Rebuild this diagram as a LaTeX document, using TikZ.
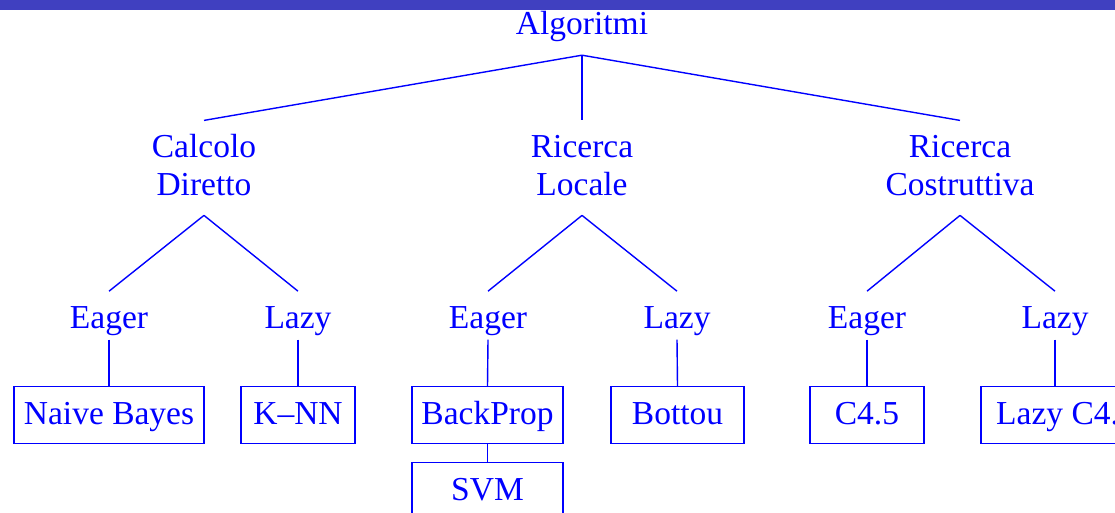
\documentclass[tikz,border=0pt]{standalone}
\usepackage{fontspec}
\setmainfont{Liberation Serif}
\usetikzlibrary{calc}
\definecolor{barblue}{RGB}{64,64,192}
\tikzset{
  lbl/.style={inner sep=0pt, text=blue, font=\fontsize{33.5}{38}\selectfont, align=center},
  leaf/.style={draw=blue, line width=1.3pt, inner sep=0pt, text=blue,
    font=\fontsize{33.5}{38}\selectfont, minimum height=57pt,
    text height=30pt, text depth=11pt},
  edge/.style={draw=blue, line width=1.4pt},
}
\begin{document}
\begin{tikzpicture}[x=1pt, y=-1pt]
  \useasboundingbox (0,0) rectangle (1115,513);
  \clip (0,0) rectangle (1115,513);
  \fill[barblue] (0,0) rectangle (1115,10);

  % root
  \node[lbl, anchor=base] (alg) at (582,35) {\strut Algoritmi};

  % first level
  \node[lbl, anchor=north] (cd) at (204,130.4) {\strut Calcolo\\Diretto\strut};
  \node[lbl, anchor=north] (rl) at (582,130.4) {\strut Ricerca\\Locale\strut};
  \node[lbl, anchor=north] (rc) at (960,130.4) {\strut Ricerca\\Costruttiva\strut};

  % second level
  \node[lbl, anchor=base] (e1) at (109,328) {\strut Eager};
  \node[lbl, anchor=base] (l1) at (298,328) {\strut Lazy};
  \node[lbl, anchor=base] (e2) at (488,328) {\strut Eager};
  \node[lbl, anchor=base] (l2) at (677,328) {\strut Lazy};
  \node[lbl, anchor=base] (e3) at (867,328) {\strut Eager};
  \node[lbl, anchor=base] (l3) at (1055,328) {\strut Lazy};

  % leaves
  \node[leaf, minimum width=190pt, anchor=north] (nb)  at (109,386)   {Naive Bayes};
  \node[leaf, minimum width=114pt, anchor=north] (knn) at (298,386)   {K--NN};
  \node[leaf, minimum width=151pt, anchor=north] (bp)  at (487.5,386) {BackProp};
  \node[leaf, minimum width=151pt, anchor=north] (svm) at (487.5,462) {SVM};
  \node[leaf, minimum width=133pt, anchor=north] (bot) at (677.5,386) {Bottou};
  \node[leaf, minimum width=114pt, anchor=north] (c45) at (867,386)   {C4.5};
  \node[leaf, minimum width=170pt, anchor=north] (lc45) at (1066,386) {Lazy C4.5};

  % edge end points below and above the labels
  \coordinate (algB) at ($(alg.south)+(0,8.6)$);
  \foreach \n in {cd,rl,rc} {
    \coordinate (\n T) at ($(\n.north)+(0,-10)$);
    \coordinate (\n B) at ($(\n.south)+(0,8.6)$);
  }
  \foreach \n in {e1,l1,e2,l2,e3,l3} {
    \coordinate (\n T) at ($(\n.north)+(0,-10)$);
  }

  % tree edges
  \draw[edge] (algB) -- (cdT);
  \draw[edge] (algB) -- (rlT);
  \draw[edge] (algB) -- (rcT);
  \draw[edge] (cdB) -- (e1T);
  \draw[edge] (cdB) -- (l1T);
  \draw[edge] (rlB) -- (e2T);
  \draw[edge] (rlB) -- (l2T);
  \draw[edge] (rcB) -- (e3T);
  \draw[edge] (rcB) -- (l3T);

  % leaf links
  \draw[edge] (e1.south) -- (nb.north);
  \draw[edge] (l1.south) -- (knn.north);
  \draw[edge] (e2.south) -- (bp.north);
  \draw[edge] (bp.south) -- (svm.north);
  \draw[edge] (l2.south) -- (bot.north);
  \draw[edge] (e3.south) -- (c45.north);
  \draw[edge] (l3.south) -- (l3.south |- lc45.north);
\end{tikzpicture}
\end{document}
